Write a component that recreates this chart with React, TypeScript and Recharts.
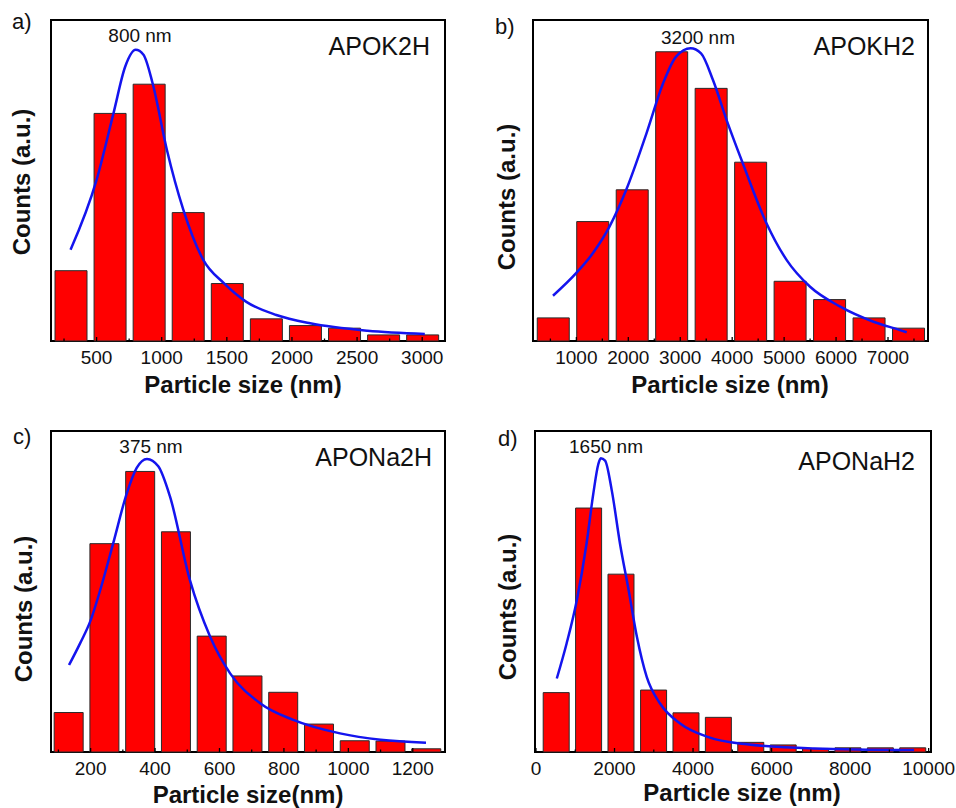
import React from 'react';
import { ComposedChart, Bar, Line, XAxis, YAxis, ReferenceArea } from 'recharts';

// a) APOK2H
const sizeA = [300, 600, 900, 1200, 1500, 1800, 2100, 2400, 2700, 3000];
const countA = [21.9, 70.9, 80.0, 40.0, 17.9, 6.9, 4.8, 4.0, 1.9, 1.9];
const fitSizeA = [300, 500, 630, 720, 800, 860, 930, 1040, 1165, 1320, 1475, 1650, 1880, 2140, 2580, 3020];
const fitA = [28.4, 50.2, 71.0, 85.5, 90.7, 89.2, 80.3, 59.5, 41.0, 25.2, 18.1, 12.2, 8.1, 5.5, 3.2, 2.2];
const ticksA = [500, 1000, 1500, 2000, 2500, 3000];
const minorA = [250, 750, 1250, 1750, 2250, 2750];

// b) APOKH2
const sizeB = [550, 1310, 2070, 2830, 3590, 4350, 5110, 5870, 6630, 7390];
const countB = [7.2, 37.2, 47.1, 90.1, 78.7, 55.7, 18.6, 12.9, 7.2, 4.0];
const fitSizeB = [550, 1000, 1320, 1640, 1960, 2350, 2670, 2920, 3200, 3400, 3630, 3900, 4210, 4660, 5050, 5500, 6080, 6720, 7230, 7360];
const fitB = [14.1, 21.2, 27.4, 35.7, 47.1, 64.7, 80.3, 88.6, 91.2, 89.6, 81.3, 68.5, 55.1, 36.7, 25.2, 16.9, 10.7, 6.0, 3.4, 2.7];
const ticksB = [1000, 2000, 3000, 4000, 5000, 6000, 7000];
const minorB = [500, 1500, 2500, 3500, 4500, 5500, 6500, 7500];

// c) APONa2H
const sizeC = [133, 244, 355, 466, 577, 688, 799, 910, 1021, 1132, 1243];
const countC = [12.3, 64.9, 87.4, 68.6, 36.1, 23.7, 18.6, 8.7, 3.5, 3.4, 1.0];
const fitSizeC = [133, 168, 200, 230, 270, 312, 343, 375, 410, 446, 508, 571, 633, 726, 829, 974, 1100, 1241];
const fitC = [27.1, 34.0, 41.0, 50.5, 65.0, 80.5, 88.5, 91.3, 89.0, 79.7, 53.6, 35.9, 24.5, 15.2, 10.0, 5.8, 3.8, 2.9];
const ticksC = [200, 400, 600, 800, 1000, 1200];
const minorC = [100, 300, 500, 700, 900, 1100];

// d) APONaH2
const sizeD = [520, 1345, 2170, 3000, 3825, 4650, 5475, 6300, 7125, 7950, 8775, 9600];
const countD = [18.5, 76.0, 55.4, 19.3, 12.2, 10.8, 3.0, 2.2, 1.1, 1.3, 1.3, 1.3];
const fitSizeD = [530, 780, 1040, 1290, 1460, 1590, 1650, 1760, 1930, 2140, 2360, 2570, 2820, 3160, 3670, 4350, 5370, 7080, 9630];
const fitD = [22.9, 33.8, 47.3, 65.1, 80.5, 89.8, 91.5, 90.8, 81.5, 64.9, 50.4, 35.9, 23.4, 15.1, 8.9, 4.8, 2.4, 1.1, 0.6];
const ticksD = [0, 2000, 4000, 6000, 8000, 10000];
const minorD = [1000, 3000, 5000, 7000, 9000];

const FONT = '"Liberation Sans", Arial, Helvetica, sans-serif';
const INK = '#111';
const W = 476;
const H = 400;
const AXIS_H = 55;

type PanelDef = {
  letter: string;
  sample: string;
  peak: number;
  xTitle: string;
  x: number;
  y: number;
  box: [number, number, number, number];
  domain: [number, number];
  sizes: number[];
  counts: number[];
  fitSizes: number[];
  fit: number[];
  ticks: number[];
  minor: number[];
  barSize: number;
  // label anchors, relative to the panel
  letterPos: [number, number];
  peakPos: [number, number];
  samplePos: [number, number];
  xTitlePos: [number, number];
  yTitlePos: [number, number];
};

const panels: PanelDef[] = [
  {
    letter: 'a)', sample: 'APOK2H', peak: 800, xTitle: 'Particle size (nm)',
    x: 0, y: 0, box: [51, 20, 445, 341], domain: [150, 3175],
    sizes: sizeA, counts: countA, fitSizes: fitSizeA, fit: fitA, ticks: ticksA, minor: minorA, barSize: 32,
    letterPos: [12, 22], peakPos: [140, 35], samplePos: [430, 46], xTitlePos: [243, 385], yTitlePos: [22, 182],
  },
  {
    letter: 'b)', sample: 'APOKH2', peak: 3200, xTitle: 'Particle size (nm)',
    x: 480, y: 0, box: [533, 20, 928, 341], domain: [165, 7770],
    sizes: sizeB, counts: countB, fitSizes: fitSizeB, fit: fitB, ticks: ticksB, minor: minorB, barSize: 32,
    letterPos: [15, 27], peakPos: [218, 37], samplePos: [435, 46], xTitlePos: [250, 385], yTitlePos: [27, 197],
  },
  {
    letter: 'c)', sample: 'APONa2H', peak: 375, xTitle: 'Particle size(nm)',
    x: 0, y: 410, box: [51, 431, 445, 752], domain: [77, 1300],
    sizes: sizeC, counts: countC, fitSizes: fitSizeC, fit: fitC, ticks: ticksC, minor: minorC, barSize: 29,
    letterPos: [13, 27], peakPos: [151, 36], samplePos: [432, 47], xTitlePos: [248, 385], yTitlePos: [24, 199],
  },
  {
    letter: 'd)', sample: 'APONaH2', peak: 1650, xTitle: 'Particle size (nm)',
    x: 480, y: 410, box: [535, 431, 931, 752], domain: [-25, 10060],
    sizes: sizeD, counts: countD, fitSizes: fitSizeD, fit: fitD, ticks: ticksD, minor: minorD, barSize: 26,
    letterPos: [18, 29], peakPos: [126, 36], samplePos: [435, 51], xTitlePos: [262, 383], yTitlePos: [28, 197],
  },
];

const Txt = ({ pos, size, bold, align = 'center', rotate, children }: any) => (
  <div
    style={{
      position: 'absolute',
      left: pos[0],
      top: pos[1],
      fontFamily: FONT,
      fontSize: size,
      fontWeight: bold ? 'bold' : 'normal',
      color: INK,
      lineHeight: 1,
      whiteSpace: 'nowrap',
      transform:
        (align === 'right' ? 'translate(-100%,-50%)' : align === 'left' ? 'translate(0,-50%)' : 'translate(-50%,-50%)') +
        (rotate ? ` rotate(${rotate}deg)` : ''),
    }}
  >
    {children}
  </div>
);

function Panel({ p }: { p: PanelDef }) {
  const bars = p.sizes.map((s, i) => ({ size: s, count: p.counts[i] }));
  const fitRows = p.fitSizes.map((s, i) => ({ size: s, fit: p.fit[i] }));
  const margin = {
    left: p.box[0] - p.x,
    top: p.box[1] - p.y,
    right: p.x + W - p.box[2],
    bottom: p.y + H - p.box[3] - AXIS_H,
  };
  const allTicks = [...p.ticks, ...p.minor].sort((a, b) => a - b);

  // inward tick marks, labels only on the major ones
  const renderTick = ({ x, y, payload }: any) => {
    const major = p.ticks.includes(payload.value);
    return (
      <g>
        <line x1={x} x2={x} y1={y} y2={y - (major ? 4 : 2.5)} stroke="#000" strokeWidth={1.3} />
        {major && (
          <text x={x} y={y + 23} textAnchor="middle" fontSize={19} fontFamily={FONT} fill={INK}>
            {payload.value}
          </text>
        )}
      </g>
    );
  };

  return (
    <div style={{ position: 'absolute', left: p.x, top: p.y, width: W, height: H }}>
      <ComposedChart width={W} height={H} data={bars} margin={margin}>
        <XAxis
          xAxisId="bins"
          type="number"
          dataKey="size"
          domain={p.domain}
          ticks={allTicks}
          interval={0}
          allowDataOverflow
          height={AXIS_H}
          axisLine={false}
          tickLine={false}
          tickSize={0}
          tickMargin={0}
          tick={renderTick}
        />
        {/* separate hidden axis for the fitted curve so its dense points don't shrink the bars */}
        <XAxis xAxisId="fit" type="number" dataKey="size" domain={p.domain} allowDataOverflow hide />
        <YAxis hide domain={[0, 100]} />
        <Bar
          xAxisId="bins"
          dataKey="count"
          barSize={p.barSize}
          fill="#ff0000"
          stroke="#2a2a2a"
          strokeWidth={1}
          isAnimationActive={false}
        />
        <Line
          xAxisId="fit"
          data={fitRows}
          dataKey="fit"
          type="monotone"
          stroke="#1414ee"
          strokeWidth={2.5}
          dot={false}
          activeDot={false}
          isAnimationActive={false}
        />
        <ReferenceArea
          xAxisId="bins"
          x1={p.domain[0]}
          x2={p.domain[1]}
          y1={0}
          y2={100}
          fill="none"
          stroke="#000"
          strokeWidth={2}
        />
      </ComposedChart>
      <Txt pos={p.letterPos} size={22} align="left">{p.letter}</Txt>
      <Txt pos={p.peakPos} size={19}>{`${p.peak} nm`}</Txt>
      <Txt pos={p.samplePos} size={25} align="right">{p.sample}</Txt>
      <Txt pos={p.xTitlePos} size={24} bold>{p.xTitle}</Txt>
      <Txt pos={p.yTitlePos} size={24} bold rotate={-90}>Counts (a.u.)</Txt>
    </div>
  );
}

export default function App() {
  return (
    <div style={{ position: 'absolute', left: 0, top: 0, width: 956, height: 808, background: '#fff' }}>
      {panels.map((p) => (
        <Panel key={p.letter} p={p} />
      ))}
    </div>
  );
}
